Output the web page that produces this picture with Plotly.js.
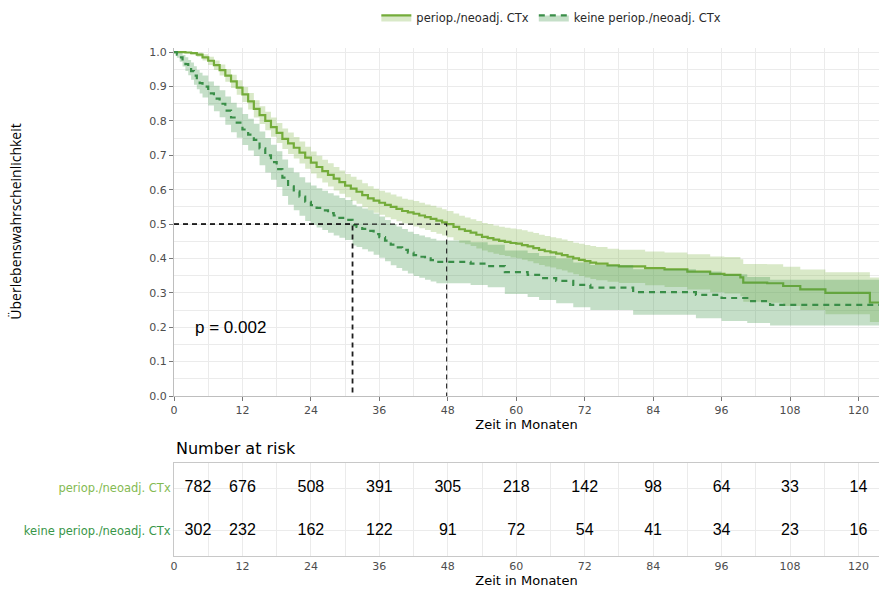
<!DOCTYPE html>
<html>
<head>
<meta charset="utf-8">
<script src="https://cdn.plot.ly/plotly-3.0.1.min.js"></script>
<style>html,body{margin:0;padding:0;background:#fff;}#chart{width:879px;height:590px;}</style>
</head>
<body>
<div id="chart"></div>
<script>
// Kaplan-Meier estimates (months, survival probability) with 95% confidence limits
const groupNames = ["periop./neoadj. CTx", "keine periop./neoadj. CTx"];

const periopTime = [0, 2, 3, 4, 5, 6, 7, 8, 9, 10, 11, 12, 13, 14, 15, 16, 17, 18, 19, 20, 21, 22, 23, 24, 25, 26, 27, 28, 29, 30, 31, 32, 33, 34, 35, 36, 37, 38, 39, 40, 41, 42, 43, 44, 45, 46, 47, 47.8, 49, 50, 51, 52, 53, 54, 55, 56, 57, 58, 59, 60, 61, 62, 63, 64, 65, 66, 67, 68, 69, 70, 71, 72, 73, 74, 76, 78, 82.6, 86, 90, 94, 96.5, 99.3, 99.8, 104, 106.8, 109.8, 114.2, 122, 123.6];
const periopSurv = [1.0, 0.999, 0.997, 0.993, 0.985, 0.975, 0.962, 0.948, 0.932, 0.915, 0.897, 0.877, 0.857, 0.835, 0.817, 0.800, 0.782, 0.765, 0.748, 0.735, 0.722, 0.708, 0.693, 0.679, 0.666, 0.654, 0.643, 0.632, 0.622, 0.612, 0.603, 0.594, 0.584, 0.575, 0.568, 0.562, 0.556, 0.550, 0.544, 0.538, 0.534, 0.530, 0.525, 0.520, 0.515, 0.510, 0.505, 0.500, 0.492, 0.485, 0.480, 0.475, 0.469, 0.463, 0.459, 0.455, 0.451, 0.448, 0.445, 0.443, 0.439, 0.435, 0.430, 0.425, 0.421, 0.418, 0.414, 0.410, 0.405, 0.400, 0.396, 0.392, 0.388, 0.385, 0.380, 0.377, 0.372, 0.368, 0.362, 0.355, 0.352, 0.345, 0.330, 0.328, 0.320, 0.310, 0.300, 0.272, 0.272];
const periopUpper = [1.0, 1.0, 1.0, 0.999, 0.994, 0.987, 0.976, 0.964, 0.950, 0.934, 0.918, 0.899, 0.881, 0.860, 0.843, 0.827, 0.810, 0.794, 0.778, 0.766, 0.753, 0.740, 0.725, 0.711, 0.699, 0.687, 0.677, 0.666, 0.656, 0.646, 0.638, 0.629, 0.619, 0.610, 0.603, 0.597, 0.592, 0.586, 0.580, 0.574, 0.571, 0.567, 0.562, 0.557, 0.553, 0.548, 0.543, 0.538, 0.531, 0.524, 0.519, 0.514, 0.509, 0.503, 0.500, 0.496, 0.492, 0.489, 0.487, 0.485, 0.482, 0.478, 0.474, 0.469, 0.465, 0.462, 0.459, 0.455, 0.451, 0.446, 0.443, 0.439, 0.436, 0.433, 0.428, 0.425, 0.420, 0.417, 0.412, 0.406, 0.404, 0.398, 0.384, 0.383, 0.376, 0.368, 0.360, 0.345, 0.345];
const periopLower = [1.0, 0.997, 0.993, 0.987, 0.976, 0.963, 0.948, 0.932, 0.914, 0.896, 0.876, 0.855, 0.833, 0.810, 0.791, 0.773, 0.754, 0.736, 0.718, 0.704, 0.691, 0.676, 0.661, 0.647, 0.633, 0.621, 0.609, 0.598, 0.588, 0.578, 0.568, 0.559, 0.549, 0.540, 0.533, 0.527, 0.520, 0.514, 0.508, 0.502, 0.497, 0.493, 0.488, 0.483, 0.477, 0.472, 0.467, 0.462, 0.453, 0.446, 0.441, 0.436, 0.429, 0.423, 0.418, 0.414, 0.410, 0.407, 0.403, 0.401, 0.396, 0.392, 0.386, 0.381, 0.377, 0.374, 0.369, 0.365, 0.359, 0.354, 0.349, 0.345, 0.340, 0.337, 0.332, 0.329, 0.322, 0.317, 0.310, 0.302, 0.298, 0.290, 0.274, 0.271, 0.262, 0.250, 0.238, 0.215, 0.215];

const keineTime = [0, 0.5, 1, 1.5, 2, 2.5, 3, 3.5, 4, 4.5, 5, 6, 7, 8, 9, 10, 11, 12, 13, 14, 15, 16, 17, 18, 19, 20, 21, 22, 23, 24, 25, 26, 27, 28, 29, 30, 31.3, 32, 33, 34, 35, 36, 37, 38, 39, 40, 41, 42, 43, 44, 45, 46, 52, 55, 58, 62, 64, 67, 70, 73, 80.5, 91.5, 96, 100.5, 104.5, 123.6];
const keineSurv = [1.0, 0.993, 0.985, 0.975, 0.965, 0.955, 0.945, 0.932, 0.920, 0.910, 0.900, 0.880, 0.865, 0.850, 0.830, 0.810, 0.795, 0.775, 0.760, 0.745, 0.720, 0.700, 0.680, 0.660, 0.635, 0.610, 0.595, 0.580, 0.565, 0.555, 0.547, 0.540, 0.532, 0.525, 0.518, 0.512, 0.497, 0.492, 0.486, 0.480, 0.471, 0.462, 0.452, 0.440, 0.432, 0.425, 0.417, 0.410, 0.405, 0.400, 0.395, 0.390, 0.385, 0.378, 0.360, 0.352, 0.343, 0.335, 0.323, 0.315, 0.302, 0.294, 0.285, 0.276, 0.265, 0.265];
const keineUpper = [1.0, 1.0, 0.998, 0.992, 0.985, 0.977, 0.970, 0.959, 0.948, 0.940, 0.932, 0.915, 0.902, 0.889, 0.871, 0.853, 0.839, 0.820, 0.806, 0.792, 0.769, 0.750, 0.731, 0.712, 0.688, 0.664, 0.650, 0.636, 0.621, 0.612, 0.604, 0.597, 0.590, 0.583, 0.576, 0.570, 0.556, 0.551, 0.545, 0.540, 0.531, 0.522, 0.512, 0.500, 0.493, 0.486, 0.478, 0.471, 0.467, 0.462, 0.457, 0.452, 0.447, 0.440, 0.423, 0.416, 0.407, 0.400, 0.388, 0.381, 0.369, 0.362, 0.354, 0.346, 0.338, 0.338];
const keineLower = [1.0, 0.984, 0.972, 0.958, 0.945, 0.933, 0.920, 0.905, 0.892, 0.880, 0.868, 0.845, 0.828, 0.811, 0.789, 0.767, 0.751, 0.730, 0.714, 0.698, 0.671, 0.650, 0.629, 0.608, 0.582, 0.556, 0.540, 0.524, 0.509, 0.498, 0.490, 0.483, 0.475, 0.467, 0.460, 0.454, 0.438, 0.433, 0.427, 0.420, 0.411, 0.402, 0.392, 0.380, 0.372, 0.364, 0.356, 0.349, 0.344, 0.338, 0.333, 0.328, 0.323, 0.316, 0.297, 0.288, 0.279, 0.270, 0.258, 0.250, 0.236, 0.226, 0.218, 0.212, 0.205, 0.205];

// Median survival times
const medianTimes = [47.8, 31.3];

// Number at risk table
const riskTimes = [0, 12, 24, 36, 48, 60, 72, 84, 96, 108, 120];
const periopRisk = [782, 676, 508, 391, 305, 218, 142, 98, 64, 33, 14];
const keineRisk = [302, 232, 162, 122, 91, 72, 54, 41, 34, 23, 16];

const pValueLabel = "p = 0.002";
const xTicks = [0, 12, 24, 36, 48, 60, 72, 84, 96, 108, 120];
const yTicks = [0, 0.1, 0.2, 0.3, 0.4, 0.5, 0.6, 0.7, 0.8, 0.9, 1.0];

const colPeriop = "rgb(116,172,58)";
const fillPeriop = "rgba(128,182,72,0.3)";
const colKeine = "rgb(58,142,72)";
const fillKeine = "rgba(62,148,72,0.3)";
const gridCol = "rgb(235,235,235)";
const tickFont = {family: "DejaVu Sans, Verdana, sans-serif", size: 11, color: "rgb(77,77,77)"};

// Band = (upper -> survival line) + (survival line -> lower); the survival
// line carries the fill so that its legend glyph shows both band and line.
function kmGroup(name, t, s, up, lo, col, fill, dash) {
  return [
    {x: t, y: up, type: "scatter", mode: "lines", line: {width: 0, shape: "hv"},
     showlegend: false, hoverinfo: "skip", legendgroup: name, xaxis: "x", yaxis: "y"},
    {x: t, y: s, type: "scatter", mode: "lines", name: name, legendgroup: name,
     line: {color: col, width: 2.2, shape: "hv", dash: dash}, fill: "tonexty", fillcolor: fill,
     xaxis: "x", yaxis: "y"},
    {x: t, y: lo, type: "scatter", mode: "lines", line: {width: 0, shape: "hv"},
     fill: "tonexty", fillcolor: fill, showlegend: false, hoverinfo: "skip",
     legendgroup: name, xaxis: "x", yaxis: "y"}
  ];
}

const traces = [];
traces.push(...kmGroup(groupNames[0], periopTime, periopSurv, periopUpper, periopLower, colPeriop, fillPeriop, "solid"));
traces.push(...kmGroup(groupNames[1], keineTime, keineSurv, keineUpper, keineLower, colKeine, fillKeine, "6px,5px"));

// Median reference lines
medianTimes.forEach((m, i) => {
  traces.push({x: [0, m, m], y: [0.5, 0.5, 0], type: "scatter", mode: "lines",
    line: {color: "rgb(30,30,30)", width: i === 1 ? 1.8 : 1.1, dash: "5px,4px"},
    showlegend: false, hoverinfo: "skip", xaxis: "x", yaxis: "y"});
});

// Risk table text rows (first column nudged right so it stays inside the panel)
const riskX = riskTimes.map(t => t === 0 ? 4.2 : t);
const riskFont = {family: "Liberation Sans, Arial, sans-serif", size: 16, color: "#000"};
traces.push({x: riskX, y: riskTimes.map(() => 2), text: periopRisk.map(String), mode: "text", type: "scatter",
  textfont: riskFont, showlegend: false, hoverinfo: "skip", xaxis: "x2", yaxis: "y2"});
traces.push({x: riskX, y: riskTimes.map(() => 1), text: keineRisk.map(String), mode: "text", type: "scatter",
  textfont: riskFont, showlegend: false, hoverinfo: "skip", xaxis: "x2", yaxis: "y2"});

const minorGrid = {tickmode: "linear", tick0: 6, dtick: 12, showgrid: true, gridcolor: gridCol, gridwidth: 1};
const titleFont = {family: "DejaVu Sans, Verdana, sans-serif", size: 13, color: "#000"};

const layout = {
  width: 879, height: 590,
  margin: {l: 174, r: 0, t: 0, b: 0},
  paper_bgcolor: "#fff", plot_bgcolor: "#fff",
  font: {family: "DejaVu Sans, Verdana, sans-serif", color: "#000"},
  showlegend: true,
  legend: {orientation: "h", x: 0.287, y: 0.995, xanchor: "left", yanchor: "top",
    font: {family: "DejaVu Sans, Verdana, sans-serif", size: 11.5, color: "rgb(40,40,40)"},
    bgcolor: "rgba(0,0,0,0)", itemwidth: 30, tracegroupgap: 0},
  xaxis: {domain: [0, 1], range: [0, 123.6], tickvals: xTicks, ticktext: xTicks.map(String),
    ticks: "outside", ticklen: 4, tickcolor: "rgb(120,120,120)", tickfont: tickFont,
    showline: true, linecolor: "rgb(190,190,190)", linewidth: 1,
    showgrid: true, gridcolor: gridCol, minor: minorGrid, zeroline: false,
    title: {text: "Zeit in Monaten", standoff: 0, font: titleFont},
    anchor: "y"},
  yaxis: {domain: [0.3288, 0.9186], range: [0, 1.012], tickvals: yTicks, ticktext: yTicks.map(v => v.toFixed(1)),
    ticks: "outside", ticklen: 4, tickcolor: "rgb(120,120,120)", tickfont: tickFont,
    showline: true, linecolor: "rgb(190,190,190)", linewidth: 1,
    showgrid: true, gridcolor: gridCol, zeroline: false,
    minor: {tickmode: "linear", tick0: 0.05, dtick: 0.1, showgrid: true, gridcolor: gridCol, gridwidth: 1},
    anchor: "x"},
  xaxis2: {domain: [0, 1], range: [0, 123.6], tickvals: xTicks, ticktext: xTicks.map(String),
    ticks: "", tickfont: tickFont, showline: true, mirror: true, linecolor: "rgb(200,200,200)", linewidth: 1,
    showgrid: true, gridcolor: gridCol, minor: minorGrid, zeroline: false,
    title: {text: "Zeit in Monaten", standoff: 2, font: titleFont},
    anchor: "y2"},
  yaxis2: {domain: [0.0576, 0.2153], range: [0.4, 2.6], tickvals: [2, 1],
    ticktext: ['<span style="color:rgb(132,186,82)">' + groupNames[0] + '</span>',
               '<span style="color:rgb(56,150,72)">' + groupNames[1] + '</span>'],
    ticks: "", tickfont: {family: "DejaVu Sans, Verdana, sans-serif", size: 11.5},
    showline: true, mirror: true, linecolor: "rgb(200,200,200)", linewidth: 1,
    showgrid: true, gridcolor: gridCol, zeroline: false, anchor: "x2"},
  annotations: [
    {text: pValueLabel, xref: "x", yref: "y", x: 3.3, y: 0.2, xanchor: "left", yanchor: "middle",
      showarrow: false, font: {family: "Liberation Sans, Arial, sans-serif", size: 17, color: "#000"}},
    {text: "Number at risk", xref: "paper", yref: "paper", x: 0, y: 0.239, xanchor: "left", yanchor: "middle",
      showarrow: false, font: {family: "DejaVu Sans, Verdana, sans-serif", size: 16, color: "#000"}},
    {text: "Überlebenswahrscheinlichkeit", xref: "paper", yref: "paper", x: -0.226, y: 0.6237,
      xanchor: "center", yanchor: "middle", textangle: -90, showarrow: false,
      font: {family: "Open Sans, sans-serif", size: 14, color: "#000"}}
  ]
};

Plotly.newPlot("chart", traces, layout, {displayModeBar: false, staticPlot: true});
</script>
</body>
</html>
